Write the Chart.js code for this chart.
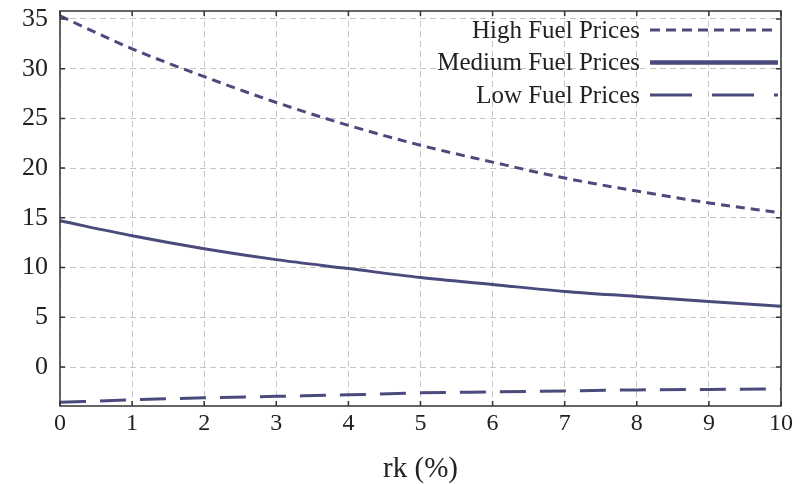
<!DOCTYPE html>
<html>
<head>
<meta charset="utf-8">
<script src="https://cdn.jsdelivr.net/npm/chart.js@4/dist/chart.umd.min.js"></script>
<style>
  html, body { margin: 0; padding: 0; background: #fff; }
  #wrap { width: 807px; height: 484px; }
</style>
</head>
<body>
<div id="wrap"><canvas id="chartFuel"></canvas></div>
<script>
// x values (rk, %)
const rk = [0, 1, 2, 3, 4, 5, 6, 7, 8, 9, 10];
const highFuel = [35.3, 32.0, 29.2, 26.6, 24.3, 22.3, 20.6, 19.0, 17.7, 16.5, 15.5];
const mediumFuel = [14.7, 13.2, 11.9, 10.8, 9.9, 9.0, 8.3, 7.6, 7.1, 6.6, 6.1];
const lowFuel = [-3.55, -3.3, -3.1, -2.95, -2.8, -2.6, -2.5, -2.4, -2.3, -2.25, -2.2];
const yTicks = [0, 5, 10, 15, 20, 25, 30, 35];
const seriesNames = ["High Fuel Prices", "Medium Fuel Prices", "Low Fuel Prices"];

const lineColor = "#4a4a7c";
const serif = "'Liberation Serif', 'DejaVu Serif', serif";

// marco del gráfico y marcas interiores
const framePlugin = {
  id: "frame",
  afterDraw(chart) {
    const { ctx, chartArea: a, scales } = chart;
    ctx.save();
    ctx.strokeStyle = "#333";
    ctx.lineWidth = 1.5;
    ctx.setLineDash([]);
    ctx.strokeRect(a.left, a.top, a.right - a.left, a.bottom - a.top);
    ctx.beginPath();
    scales.x.ticks.forEach((t, i) => {
      const px = scales.x.getPixelForTick(i);
      ctx.moveTo(px, a.bottom); ctx.lineTo(px, a.bottom - 5);
      ctx.moveTo(px, a.top); ctx.lineTo(px, a.top + 5);
    });
    scales.y.ticks.forEach(t => {
      const py = scales.y.getPixelForValue(t.value);
      ctx.moveTo(a.left, py); ctx.lineTo(a.left + 5, py);
      ctx.moveTo(a.right, py); ctx.lineTo(a.right - 5, py);
    });
    ctx.stroke();
    ctx.restore();
  }
};

// leyenda dentro del área, texto a la izquierda de la muestra
const legendPlugin = {
  id: "insideLegend",
  afterDatasetsDraw(chart) {
    const { ctx, chartArea: a } = chart;
    ctx.save();
    ctx.font = "25px " + serif;
    ctx.textAlign = "right";
    ctx.textBaseline = "middle";
    chart.data.datasets.forEach((ds, i) => {
      const y = a.top + 19 + i * 32.5;
      ctx.fillStyle = "#222";
      ctx.fillText(ds.label, a.right - 141, y + 1);
      ctx.strokeStyle = ds.borderColor;
      ctx.lineWidth = ds.legendWidth || ds.borderWidth;
      ctx.setLineDash(ds.legendDash || ds.borderDash || []);
      ctx.beginPath();
      ctx.moveTo(a.right - 131, y);
      ctx.lineTo(a.right - 3, y);
      ctx.stroke();
    });
    ctx.restore();
  }
};

const ctx = document.getElementById("chartFuel").getContext("2d");
new Chart(ctx, {
  type: "line",
  data: {
    labels: rk,
    datasets: [
      {
        label: seriesNames[0],
        data: highFuel,
        borderColor: lineColor,
        borderWidth: 3,
        borderDash: [9, 6],
        legendDash: [10, 6],
      },
      {
        label: seriesNames[1],
        data: mediumFuel,
        borderColor: lineColor,
        borderWidth: 3,
        legendWidth: 4.5,
      },
      {
        label: seriesNames[2],
        data: lowFuel,
        borderColor: lineColor,
        borderWidth: 3,
        borderDash: [26, 14],
        legendDash: [42, 20],
      },
    ],
  },
  options: {
    responsive: true,
    maintainAspectRatio: false,
    animation: false,
    layout: { padding: { top: 11, right: 26, left: 0, bottom: 0 } },
    elements: {
      point: { radius: 0 },
      line: { tension: 0.4, cubicInterpolationMode: "monotone", fill: false },
    },
    plugins: {
      legend: { display: false },
      tooltip: { enabled: false },
    },
    scales: {
      x: {
        type: "category",
        offset: false,
        grid: { color: "#c4c4c4", lineWidth: 1, drawTicks: false },
        border: { display: false, dash: [6, 4] },
        ticks: { color: "#222", font: { family: serif, size: 24 }, padding: 3, maxRotation: 0 },
        title: {
          display: true,
          text: "rk (%)",
          color: "#222",
          font: { family: serif, size: 29 },
          padding: { top: 0, bottom: -3 },
        },
        afterFit(scale) {
          scale.height = 78;
          scale.paddingLeft = 0;
          scale.paddingRight = 0;
        },
      },
      y: {
        min: -3.92,
        max: 35.8,
        grid: { color: "#c4c4c4", lineWidth: 1, drawTicks: false },
        border: { display: false, dash: [6, 4] },
        ticks: { color: "#222", font: { family: serif, size: 26 }, padding: 12 },
        afterBuildTicks(scale) { scale.ticks = yTicks.map(v => ({ value: v })); },
        afterFit(scale) {
          scale.width = 60;
          scale.paddingTop = 0;
          scale.paddingBottom = 0;
        },
      },
    },
  },
  plugins: [framePlugin, legendPlugin],
});
</script>
</body>
</html>
